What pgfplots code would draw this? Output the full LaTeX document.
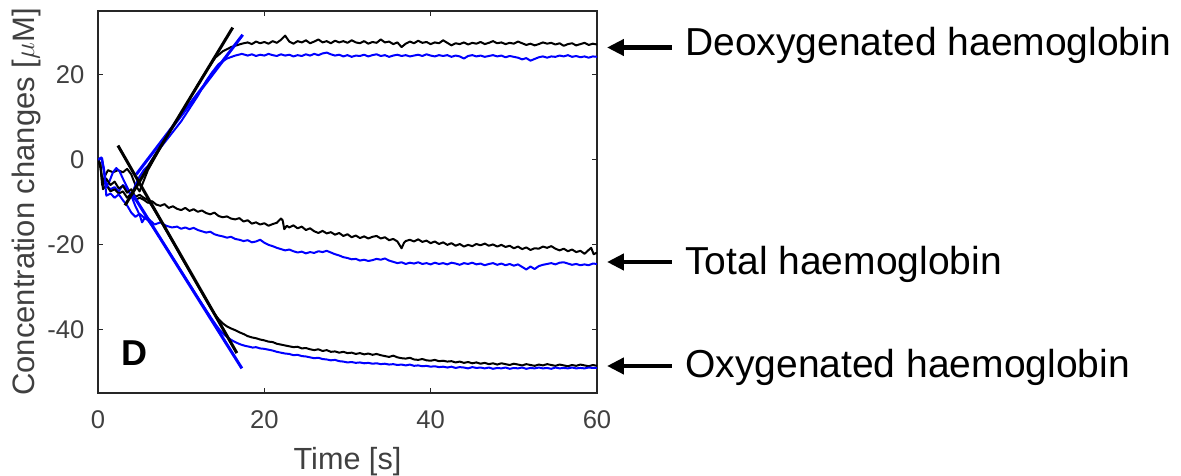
\documentclass[border=0pt]{standalone}
\usepackage{fontspec}
\setmainfont{Liberation Sans}
\usepackage{pgfplots}
\pgfplotsset{compat=1.18}
\usetikzlibrary{arrows.meta}
\definecolor{mblue}{rgb}{0,0,1}
\begin{document}
\begin{tikzpicture}
\useasboundingbox (0,0) rectangle (590.5bp,-238bp);
\begin{axis}[
 at={(49bp,-5.5bp)}, anchor=north west,
 scale only axis, width=249.5bp, height=191bp,
 xmin=0, xmax=60, ymin=-55, ymax=35,
 xtick={0,20,40,60}, ytick={-40,-20,0,20},
 tick align=inside, major tick length=2.5bp,
 axis line style={black!85, line width=0.7bp},
 every tick/.style={black!85, line width=0.6bp},
 tick label style={font=\fontsize{12.8bp}{15bp}\selectfont, text=black!75},
 xticklabel style={yshift=-5.5bp},
 yticklabel style={xshift=-3.3bp},
 /pgf/number format/assume math mode=true,
 data/.style={line width=1bp, line join=round},
 fit/.style={line width=1.5bp},
]
% Deoxygenated, black
\addplot[data, black] coordinates {
(0,0)(0.3,-1)(0.5,-6)(0.8,-4)(1.2,-2.5)(1.8,-3)(2.4,-2.5)(3,-3)(3.5,-2.2)(4,-3.5)(4.5,-6)(5,-7.5)(5.5,-5)(6,-2.5)(7,1)(8,4.5)(9,7.8)(10,11)(11,14.3)(12,17.6)(13,20.8)(14.1,24)(15,25.5)(16,26.5)
(17.3,27.3)(18,27.6)(18.5,27.2)(19,27.8)(19.5,27.4)(20,27.7)(20.5,27.3)(21,27.9)(21.5,27.5)(22,28.2)(22.5,29.2)(23,27.8)(23.5,27.3)(24,27.9)(24.5,27.6)(25,28.1)(25.5,27.4)(26,27.8)(26.5,28.3)(27,27.6)(27.5,27.9)(28,27.4)(28.5,28)(29,27.6)(29.5,27.9)(30,27.5)(30.5,28.1)(31,27.6)(31.5,27.4)(32,27.9)(32.5,27.3)(33,27.7)(33.5,27.5)(34,28.3)(34.5,27.6)(35,27.8)(35.5,27.2)(36,27.6)(36.5,26.5)(37,27.3)(37.5,27.8)(38,27.4)(38.5,28.0)(39,27.5)(39.5,27.7)(40,27.2)(40.5,27.6)(41,27.4)(41.5,28.1)(42,27.5)(42.5,26.9)(43,27.4)(43.5,27.2)(44,27.6)(44.5,27.1)(45,27.5)(45.5,27.3)(46,27.7)(46.5,27.2)(47,27.5)(47.5,27.9)(48,27.4)(48.5,27.6)(49,27.2)(49.5,27.5)(50,27.3)(50.5,27.8)(51,27.4)(51.5,27.0)(52,27.3)(52.5,26.9)(53,27.2)(53.5,27.6)(54,27.3)(54.5,27.5)(55,27.1)(55.5,27.4)(56,26.8)(56.5,27.2)(57,27.4)(57.5,26.9)(58,27.2)(58.5,27.5)(59,27.0)(59.5,27.3)(60,27.1)
};
% Deoxygenated, blue
\addplot[data, mblue] coordinates {
(0,0)(0.4,0.5)(0.7,-2)(1,-6)(1.5,-7)(2,-6.5)(2.5,-7.5)(3,-6)(3.5,-7)(4,-8.5)(4.5,-6)(5,-4)(5.5,-2.5)(6,-1.5)(7,1.5)(8,4)(9,6.5)(10,9)(11,12)(12,15)(13,18.5)(13.7,20.5)(14.5,22.5)(15.5,23.8)(16.5,24.5)
(17.3,24.9)(18,24.5)(18.5,24.8)(19,24.4)(19.5,24.7)(20,24.5)(20.5,24.9)(21,24.6)(21.5,24.4)(22,24.8)(22.5,24.5)(23,24.7)(23.5,24.3)(24,24.6)(24.5,24.4)(25,24.8)(25.5,24.5)(26,24.9)(26.5,24.6)(27,25.0)(27.5,25.2)(28,24.8)(28.5,24.5)(29,24.7)(29.5,24.3)(30,24.6)(30.5,24.2)(31,24.5)(31.5,24.4)(32,24.7)(32.5,24.3)(33,24.6)(33.5,24.8)(34,24.4)(34.5,24.6)(35,24.2)(35.5,24.5)(36,24.7)(36.5,24.4)(37,24.6)(37.5,24.3)(38,24.5)(38.5,24.7)(39,24.4)(39.5,24.8)(40,24.5)(40.5,24.3)(41,24.6)(41.5,24.4)(42,24.6)(42.5,24.2)(43,24.5)(43.5,24.3)(44,23.8)(44.5,24.4)(45,24.6)(45.5,24.3)(46,24.5)(46.5,24.2)(47,24.4)(47.5,24.6)(48,24.3)(48.5,24.5)(49,24.1)(49.5,24.4)(50,24.2)(50.5,24.0)(51,23.6)(51.5,23.9)(52,23.3)(52.5,23.7)(53,24.1)(53.5,24.3)(54,24.0)(54.5,24.3)(55,24.2)(55.5,24.5)(56,24.3)(56.5,24.6)(57,24.2)(57.5,24.4)(58,24.1)(58.5,24.3)(59,24.0)(59.5,24.3)(60,24.2)
};
% Total, black
\addplot[data, black] coordinates {
(0,0)(0.3,-2)(0.6,-7)(1,-6)(1.5,-7.5)(2,-7)(2.5,-8)(3,-7.5)(3.5,-9)(4,-8)(4.5,-9.5)(5,-9)(5.6,-9.6)(6,-10.2)(6.5,-9.8)(7,-10.6)(7.5,-10.9)(8,-10.5)(8.5,-11.4)(9,-11.0)(9.5,-11.6)(10,-11.9)(10.5,-11.4)(11,-12.1)(11.5,-11.7)(12,-12.3)(12.5,-12.0)(13,-12.6)(13.5,-12.9)(14,-12.5)(14.5,-13.3)(15,-13.6)(15.5,-13.4)(16,-13.9)(16.5,-14.1)(17,-13.8)(17.5,-14.6)(18,-14.3)(18.5,-15.1)(19,-14.8)(19.5,-15.3)(20,-15.0)(20.5,-15.6)(21,-15.2)(21.5,-14.9)(22,-13.9)(22.2,-14.3)(22.4,-16.4)(22.7,-15.6)(23,-16.0)(23.5,-15.5)(24,-16.2)(24.5,-15.8)(25,-16.6)(25.5,-16.2)(26,-16.9)(26.5,-17.3)(27,-16.8)(27.5,-17.4)(28,-17.1)(28.5,-17.7)(29,-17.3)(29.5,-18.0)(30,-17.6)(30.5,-18.3)(31,-17.9)(31.5,-18.5)(32,-18.1)(32.5,-18.6)(33,-18.2)(33.5,-18.0)(34,-18.6)(34.5,-18.3)(35,-19.0)(35.5,-18.7)(36,-19.3)(36.5,-20.9)(36.8,-19.6)(37,-19.2)(37.5,-18.9)(38,-19.3)(38.5,-18.8)(39,-19.4)(39.5,-19.1)(40,-19.7)(40.5,-19.3)(41,-19.9)(41.5,-19.5)(42,-20.1)(42.5,-19.7)(43,-20.3)(43.5,-19.9)(44,-20.5)(44.5,-20.1)(45,-20.4)(45.5,-19.9)(46,-20.2)(46.5,-19.8)(47,-20.3)(47.5,-20.0)(48,-20.5)(48.5,-20.1)(49,-20.6)(49.5,-20.3)(50,-20.9)(50.5,-20.5)(51,-21.1)(51.5,-20.7)(52,-21.3)(52.5,-20.9)(53,-21.0)(53.5,-20.5)(54,-20.8)(54.5,-20.4)(55,-21.0)(55.5,-21.4)(56,-21.0)(56.5,-21.6)(57,-21.2)(57.5,-21.8)(58,-21.5)(58.5,-22.2)(59,-21.3)(59.3,-20.8)(59.6,-22.3)(60,-21.9)
};
% Total, blue
\addplot[data, mblue] coordinates {
(0,0)(0.4,0.4)(0.7,-2.5)(1,-6.5)(1.4,-5)(1.8,-3)(2.2,-2)(2.6,-2.8)(3,-4.5)(3.5,-6.5)(4,-8.5)(4.5,-11)(5,-13)(5.3,-14.8)(5.7,-13.5)(6.2,-14.2)(6.8,-15.3)(7.5,-14.8)(8.2,-15.6)
(8.9,-16.0)(9.5,-15.8)(10,-16.3)(10.5,-16.0)(11,-16.4)(11.5,-16.1)(12,-16.6)(12.5,-16.9)(13,-17.2)(13.5,-17.0)(14,-17.6)(14.5,-17.9)(15,-18.1)(15.5,-18.4)(16,-18.2)(16.5,-18.7)(17,-18.9)(17.5,-19.2)(18,-19.0)(18.5,-19.5)(19,-19.3)(19.5,-18.9)(20,-19.6)(20.5,-20.1)(21,-20.4)(21.5,-20.8)(22,-21.1)(22.5,-21.4)(23,-21.2)(23.5,-21.6)(24,-21.9)(24.5,-21.7)(25,-22.1)(25.5,-21.8)(26,-22.0)(26.5,-21.6)(27,-21.8)(27.5,-21.5)(28,-21.9)(28.5,-22.3)(29,-22.6)(29.5,-23.0)(30,-23.2)(30.5,-23.5)(31,-23.4)(31.5,-23.8)(32,-23.6)(32.5,-23.9)(33,-23.7)(33.5,-23.4)(34,-23.6)(34.5,-23.3)(35,-23.8)(35.5,-24.1)(36,-24.4)(36.5,-24.2)(37,-24.6)(37.5,-24.3)(38,-24.5)(38.5,-24.2)(39,-24.6)(39.5,-24.4)(40,-24.7)(40.5,-24.3)(41,-24.6)(41.5,-24.4)(42,-24.7)(42.5,-24.3)(43,-24.5)(43.5,-24.8)(44,-24.4)(44.5,-24.6)(45,-24.3)(45.5,-24.7)(46,-24.5)(46.5,-24.9)(47,-24.6)(47.5,-24.4)(48,-24.8)(48.5,-24.5)(49,-24.9)(49.5,-24.6)(50,-25.0)(50.5,-24.7)(51,-25.3)(51.5,-25.9)(52,-25.2)(52.5,-25.8)(53,-25.1)(53.5,-24.8)(54,-24.6)(54.5,-24.4)(55,-24.7)(55.5,-24.3)(56,-24.2)(56.5,-24.5)(57,-24.8)(57.5,-24.6)(58,-24.9)(58.5,-24.7)(59,-24.9)(59.5,-24.5)(60,-24.6)
};
% Oxygenated, black
\addplot[data, black] coordinates {
(0,0)(0.3,-1.5)(0.6,-6)(1,-4.5)(1.5,-6)(2,-5.2)(2.5,-6.8)(3,-6.2)(3.5,-7.8)(4,-7.0)(4.5,-8.8)(5,-8.3)(5.5,-9.0)(6,-9.5)(6.5,-11)(7,-12.6)(8,-16.0)(9,-19.4)(10,-22.9)(11,-26.3)(12,-29.7)(13,-33.1)(13.6,-35.1)
(14.1,-36.6)(14.5,-37.6)(15,-38.6)(15.5,-39.3)(16,-39.8)(16.5,-40.2)(17,-40.7)(17.5,-41.1)(18,-41.6)(18.5,-41.9)(19,-42.1)(19.5,-42.4)(20,-42.6)(20.5,-42.9)(21,-43.0)(21.5,-43.4)(22,-43.6)(22.5,-43.8)(23,-44.0)(23.5,-44.2)(24,-44.1)(24.5,-44.5)(25,-44.4)(25.5,-44.7)(26,-44.9)(26.5,-44.7)(27,-45.1)(27.5,-44.9)(28,-45.3)(28.5,-45.2)(29,-45.5)(29.5,-45.3)(30,-45.6)(30.5,-45.5)(31,-45.8)(31.5,-45.6)(32,-45.9)(32.5,-45.7)(33,-46.0)(33.5,-45.8)(34,-46.1)(34.5,-46.3)(35,-46.5)(35.5,-46.2)(36,-46.6)(36.5,-46.8)(37,-46.9)(37.5,-46.7)(38,-47.1)(38.5,-47.2)(39,-47.0)(39.5,-47.3)(40,-47.4)(40.5,-47.2)(41,-47.5)(41.5,-47.4)(42,-47.6)(42.5,-47.5)(43,-47.8)(43.5,-47.6)(44,-47.9)(44.5,-47.7)(45,-48.0)(45.5,-47.8)(46,-48.1)(46.5,-47.9)(47,-48.2)(47.5,-48.0)(48,-48.3)(48.5,-48.0)(49,-48.2)(49.5,-48.4)(50,-48.1)(50.5,-48.3)(51,-48.5)(51.5,-48.2)(52,-48.4)(52.5,-48.6)(53,-48.3)(53.5,-48.5)(54,-48.2)(54.5,-48.4)(55,-48.6)(55.5,-48.3)(56,-48.5)(56.5,-48.7)(57,-48.4)(57.5,-48.6)(58,-48.3)(58.5,-48.5)(59,-48.7)(59.5,-48.4)(60,-48.6)
};
% Oxygenated, blue
\addplot[data, mblue] coordinates {
(0,0)(0.5,0.3)(0.8,-4)(1,-8.5)(1.5,-8)(2,-9)(2.5,-8.2)(3,-9.6)(3.5,-10.8)(4,-12.5)(4.5,-13.5)(5,-12.8)(5.5,-13.6)(6,-14.3)(6.5,-15.6)(7,-17.1)(7.5,-18.6)(8,-20.1)(9,-23.2)(10,-26.3)(11,-29.4)(12,-32.5)(13,-35.5)(13.7,-37.6)
(14.2,-39.0)(14.7,-40.3)(15.2,-41.3)(15.7,-42.1)(16.2,-42.7)(16.7,-43.2)(17.2,-43.6)(17.7,-43.9)(18.2,-44.1)(18.6,-44.3)(19,-44.2)(19.5,-44.5)(20,-44.6)(20.5,-44.8)(21,-45.0)(21.5,-45.3)(22,-45.5)(22.5,-45.7)(23,-45.8)(23.5,-46.1)(24,-46.0)(24.5,-46.3)(25,-46.4)(25.5,-46.6)(26,-46.8)(26.5,-46.7)(27,-47.0)(27.5,-47.1)(28,-47.3)(28.5,-47.2)(29,-47.5)(29.5,-47.6)(30,-47.8)(30.5,-47.7)(31,-47.9)(31.5,-47.8)(32,-48.0)(32.5,-47.9)(33,-48.1)(33.5,-48.0)(34,-48.2)(34.5,-48.1)(35,-48.3)(35.5,-48.2)(36,-48.4)(36.5,-48.3)(37,-48.5)(37.5,-48.3)(38,-48.6)(38.5,-48.5)(39,-48.7)(39.5,-48.6)(40,-48.8)(40.5,-48.7)(41,-48.9)(41.5,-48.8)(42,-49.0)(42.5,-48.8)(43,-49.1)(43.5,-48.9)(44,-49.0)(44.5,-49.2)(45,-48.9)(45.5,-49.1)(46,-49.0)(46.5,-49.2)(47,-49.0)(47.5,-49.3)(48,-49.1)(48.5,-49.2)(49,-49.0)(49.5,-49.3)(50,-49.1)(50.5,-49.2)(51,-49.0)(51.5,-49.3)(52,-49.1)(52.5,-49.2)(53,-49.0)(53.5,-49.2)(54,-49.1)(54.5,-49.3)(55,-49.0)(55.5,-49.2)(56,-49.1)(56.5,-49.2)(57,-49.0)(57.5,-49.2)(58,-49.1)(58.5,-49.2)(59,-49.0)(59.5,-49.1)(60,-49.1)
};
% fitted lines
\addplot[fit, mblue] coordinates {(4.6,-3.5)(17.4,29.4)};
\addplot[fit, mblue] coordinates {(4.2,-8.3)(17.3,-49.2)};
\addplot[fit, black] coordinates {(3.25,-10.8)(16.2,31.1)};
\addplot[fit, black] coordinates {(2.4,3.3)(16.7,-45.6)};
\end{axis}
\begin{scope}[x=0.5bp, y=-0.5bp]
\node[anchor=base, inner sep=0, text=black!75, font=\fontsize{15.3bp}{18bp}\selectfont] at (347.5,470) {Time [s]};
\node[anchor=base, rotate=90, inner sep=0, text=black!75, font=\fontsize{15.5bp}{18bp}\selectfont] at (34,202) {Concentration changes [$\mu$M]};
\node[anchor=base west, inner sep=0, font=\bfseries\fontsize{18bp}{20bp}\selectfont] at (121,366) {D};
\foreach \ya/\yt/\txt in {47.5/55/Deoxygenated haemoglobin, 262/275/Total haemoglobin, 366/378/Oxygenated haemoglobin}{
  \draw[line width=2.2bp, -{Triangle[length=8.5bp,width=8bp]}] (672,\ya) -- (607,\ya);
  \node[anchor=base west, inner sep=0, font=\fontsize{19.5bp}{22bp}\selectfont] at (685,\yt) {\txt};
}
\end{scope}
\end{tikzpicture}
\end{document}
